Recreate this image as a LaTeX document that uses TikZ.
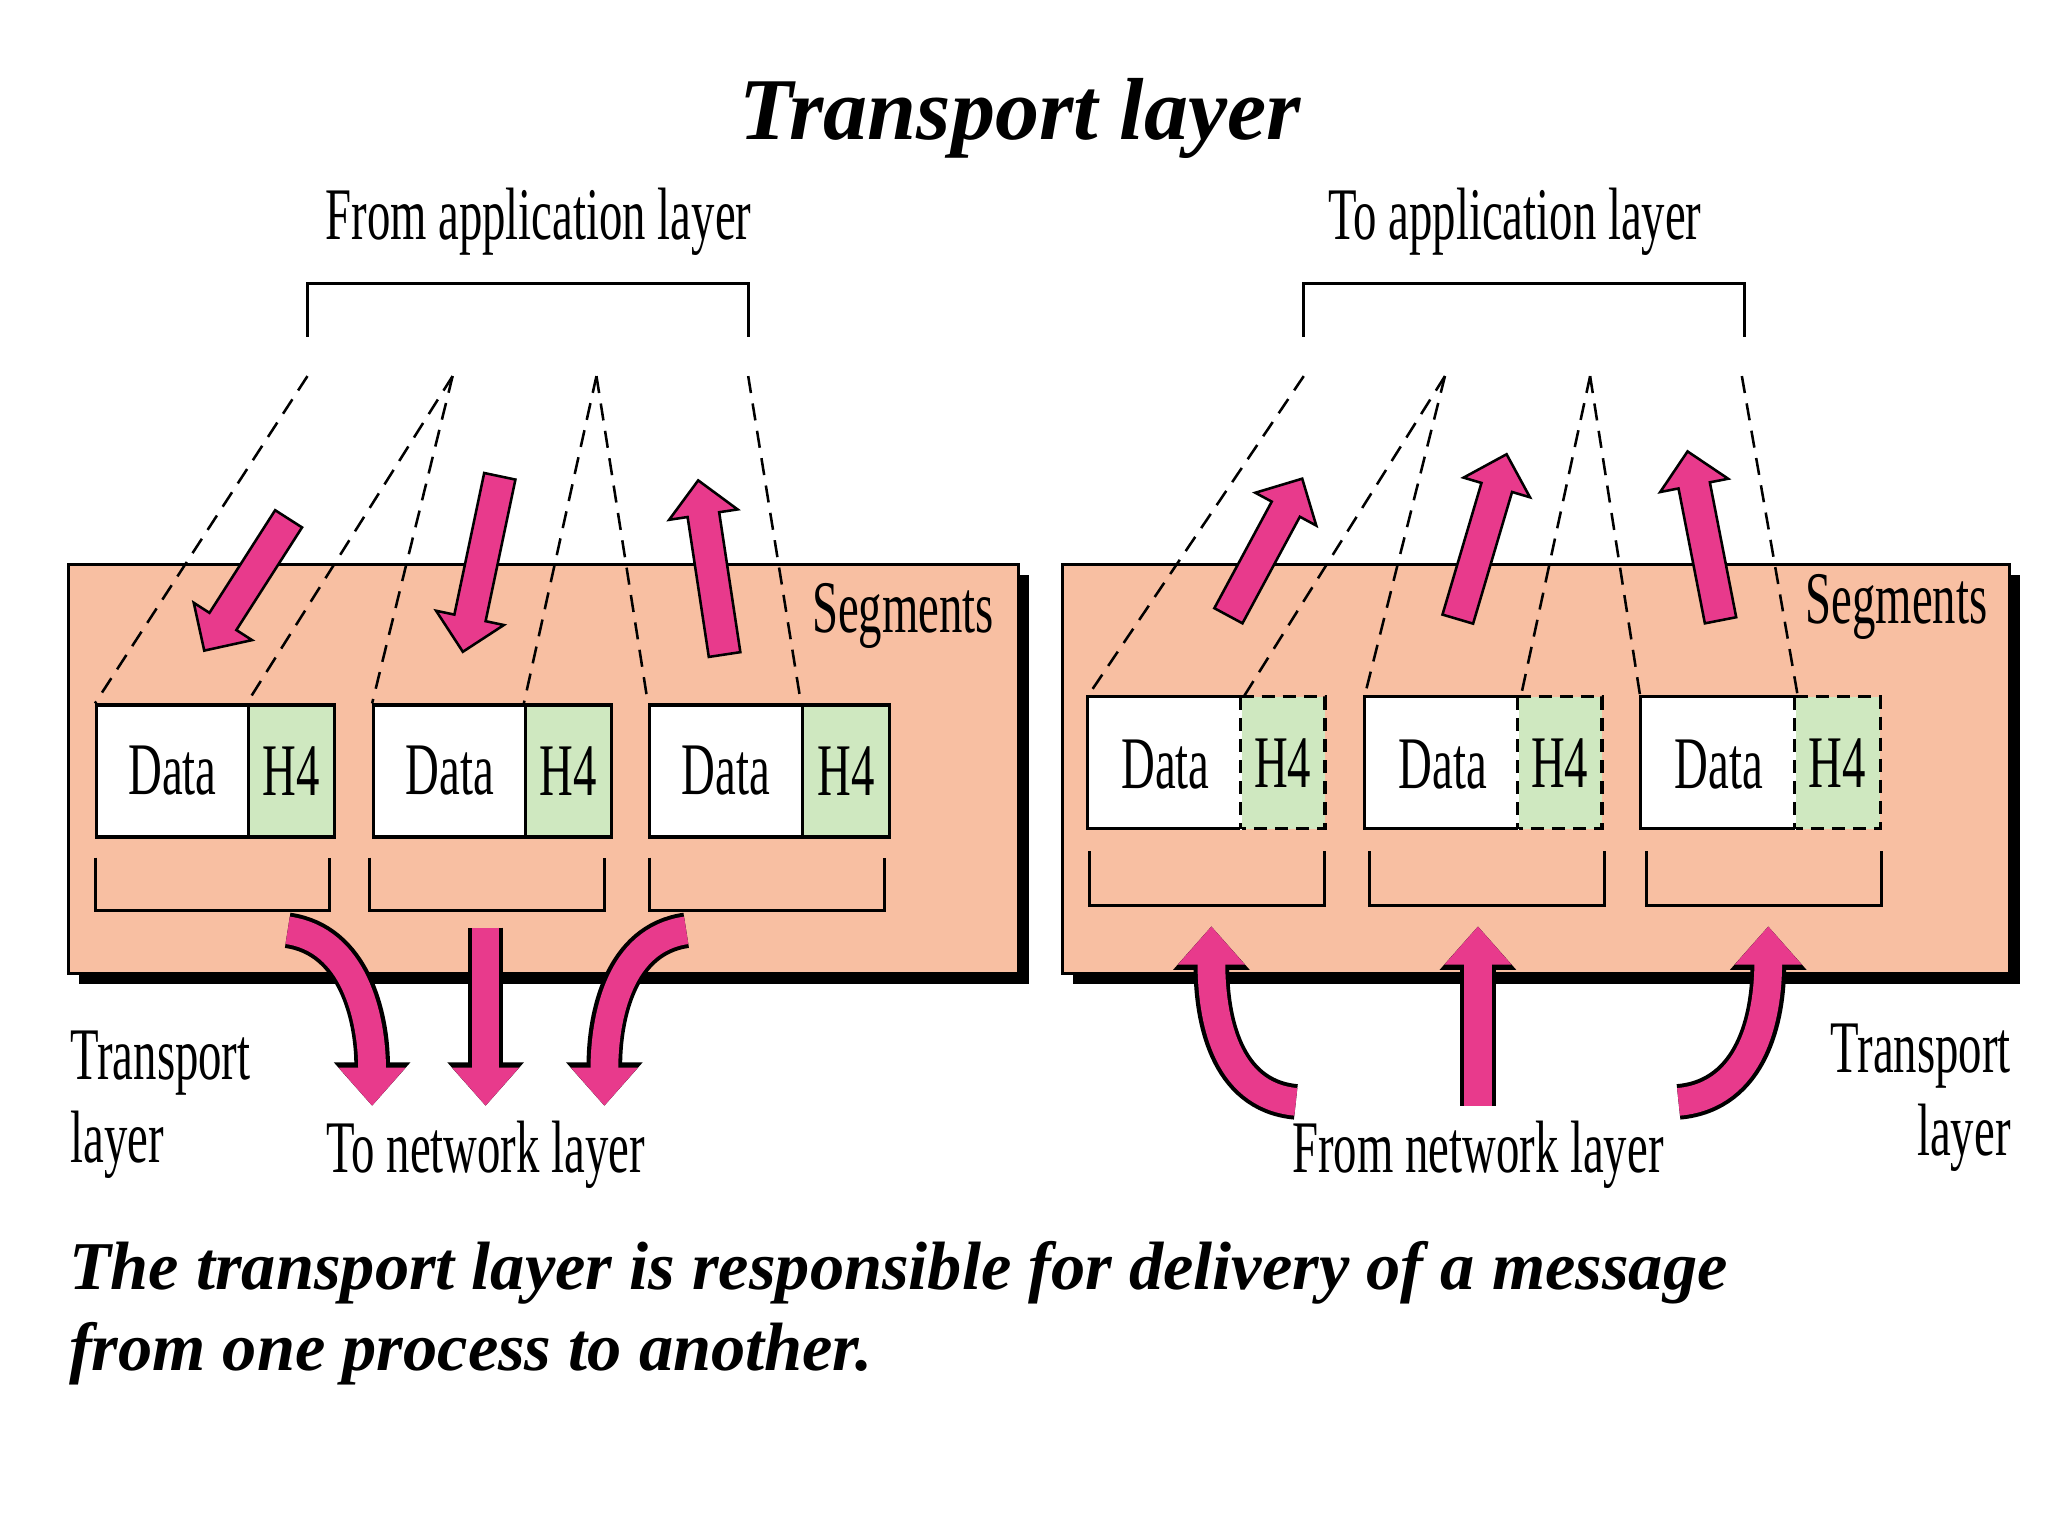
\documentclass[tikz,border=0pt]{standalone}
\usepackage{fontspec}
\setmainfont{Liberation Serif}
\usetikzlibrary{shapes.arrows,arrows.meta,calc}
\definecolor{salmon}{HTML}{F8BFA2}
\definecolor{pinkA}{HTML}{E83A8C}
\definecolor{greenH}{HTML}{CFE8C0}
\newcommand\cond[1]{\scalebox{0.63}[1]{#1}}
\tikzset{
  panel/.style={fill=salmon,draw=black,line width=1.2pt},
  shadow/.style={fill=black},
  datab/.style={fill=white,draw=black,line width=1.4pt},
  hfour/.style={fill=greenH,draw=black,line width=1.4pt},
  lbl/.style={font=\fontsize{32}{36}\selectfont,inner sep=0pt},
  dsh/.style={line width=1.1pt,dash pattern=on 0.26cm off 0.16cm},
  brk/.style={line width=1.3pt},
  fat/.style={single arrow,fill=pinkA,draw=black,line width=1.1pt,minimum width=1.05cm,
    single arrow head extend=0.28cm,single arrow head indent=0cm,inner xsep=0pt,inner ysep=0.22cm},
}
\newcommand\fatarrow[3]{%
  \path let \p1=#2, \p2=#3, \n1={atan2(\y2-\y1,\x2-\x1)}, \n2={veclen(\x2-\x1,\y2-\y1)} in
    node[fat,rotate=\n1,minimum height=\n2] (#1) at ($#2!0.5!#3$) {};}
\newcommand\curvearrow[1]{%
  \draw[line width=0.54cm,black,-{Triangle[width=1.12cm,length=0.66cm]}] #1;
  \draw[line width=0.42cm,pinkA,-{Triangle[width=0.98cm,length=0.58cm]}] #1;}
\begin{document}
\begin{tikzpicture}[x=0.02cm,y=-0.02cm]
\useasboundingbox (0,0) rectangle (1552,1164);
\fill[white] (0,0) rectangle (1552,1164);
% title
\node[inner sep=0pt,font=\fontsize{38}{42}\selectfont\bfseries\itshape] (title) at (773,90) {Transport layer};
% ---------- left panel
\fill[shadow] (60,436) rectangle (780,746);
\draw[panel] (52,428) rectangle (772,738);
\node[lbl] (fal) at (408,168) {\cond{From application layer}};
\draw[brk] (233,255) -- (233,215) coordinate (lb1) -- (567,215) -- (567,255);
\coordinate (la) at (233,285); \coordinate (lb) at (343,285);
\coordinate (lc) at (452,285); \coordinate (ld) at (567,285);
\foreach \x/\dv/\r/\i in {72/187/252/1,282/397/462/2,491/607/673/3}{
  \node[datab,minimum width=(\dv-\x)*0.02cm,minimum height=2cm,anchor=north west,
    label={[lbl]center:\cond{Data}}] (ld\i) at (\x,533) {};
  \node[hfour,minimum width=(\r-\dv)*0.02cm,minimum height=2cm,anchor=north west,
    label={[lbl]center:\cond{H4}}] (lh\i) at (\dv,533) {};
}
\draw[brk] (72,650) -- (72,690) -- (250,690) -- (250,650);
\draw[brk] (280,650) -- (280,690) -- (458,690) -- (458,650);
\draw[brk] (492,650) -- (492,690) -- (670,690) -- (670,650);
\draw[dsh] (la) -- (ld1.north west);
\draw[dsh] (lb) -- (lh1.north west);
\draw[dsh] (lb) -- (ld2.north west);
\draw[dsh] (lc) -- (lh2.north west);
\draw[dsh] (lc) -- (ld3.north west);
\draw[dsh] (ld) -- (lh3.north west);
\fatarrow{la1}{(222,388)}{(158,488)}
\fatarrow{la2}{(380,355)}{(352,488)}
\fatarrow{la3}{(550,502)}{(530,370)}
\node[lbl,anchor=west] (lseg) at (615,467) {\cond{Segments}};
\curvearrow{(218,705) .. controls (268,712) and (282,770) .. (282,838)}
\curvearrow{(368,703) -- (368,838)}
\curvearrow{(520,705) .. controls (470,712) and (458,770) .. (458,838)}
\node[lbl,anchor=west,align=left] (ltl) at (53,837) {\cond{Transport}\\\cond{layer}};
\node[lbl] (tnl) at (368,875) {\cond{To network layer}};
% ---------- right panel
\fill[shadow] (813,436) rectangle (1531,746);
\draw[panel] (805,428) rectangle (1523,738);
\node[lbl] (tal) at (1148,168) {\cond{To application layer}};
\draw[brk] (988,255) -- (988,215) -- (1322,215) -- (1322,255);
\coordinate (ra) at (988,285); \coordinate (rb) at (1095,285);
\coordinate (rc) at (1205,285); \coordinate (rd) at (1320,285);
\foreach \x/\dv/\r/\i in {824/940/1004/1,1034/1150/1214/2,1243/1360/1425/3}{
  \fill[greenH] (\dv,528) rectangle (\r,628);
  \draw[line width=1.4pt,dash pattern=on 0.2cm off 0.12cm] (\dv,528) -- (\r,528) -- (\r,628) -- (\dv,628);
  \node[datab,minimum width=(\dv-\x)*0.02cm,minimum height=2cm,anchor=north west,draw=none,
    label={[lbl]center:\cond{Data}}] (rd\i) at (\x,528) {};
  \draw[line width=1.4pt] (\dv,528) -- (\x,528) -- (\x,628) -- (\dv,628);
  \draw[line width=1.4pt,dash pattern=on 0.2cm off 0.12cm] (\dv,528) -- (\dv,628);
  \node[lbl] (rh\i) at ({(\dv+\r)/2},578) {\cond{H4}};
}
\draw[brk] (826,645) -- (826,686) -- (1004,686) -- (1004,645);
\draw[brk] (1038,645) -- (1038,686) -- (1216,686) -- (1216,645);
\draw[brk] (1248,645) -- (1248,686) -- (1426,686) -- (1426,645);
\draw[dsh] (ra) -- (rd1.north west);
\draw[dsh] (rb) -- (rd1.north east);
\draw[dsh] (rb) -- (rd2.north west);
\draw[dsh] (rc) -- (rd2.north east);
\draw[dsh] (rc) -- (rd3.north west);
\draw[dsh] (rd) -- (rd3.north east);
\fatarrow{ra1}{(928,472)}{(984,368)}
\fatarrow{ra2}{(1103,475)}{(1140,350)}
\fatarrow{ra3}{(1305,476)}{(1280,348)}
\node[lbl,anchor=west] (rseg) at (1368,460) {\cond{Segments}};
\curvearrow{(982,835) .. controls (928,830) and (918,770) .. (918,702)}
\curvearrow{(1120,838) -- (1120,702)}
\curvearrow{(1272,835) .. controls (1328,830) and (1340,770) .. (1340,702)}
\node[lbl,anchor=east,align=right] (rtl) at (1524,832) {\cond{Transport}\\\cond{layer}};
\node[lbl] (fnl) at (1120,875) {\cond{From network layer}};
% caption
\node[inner sep=0pt,anchor=west,align=left,font=\fontsize{29.5}{35}\selectfont\bfseries\itshape] (cap) at (52,995)
  {The transport layer is responsible for delivery of a message\\from one process to another.};
\end{tikzpicture}
\end{document}
